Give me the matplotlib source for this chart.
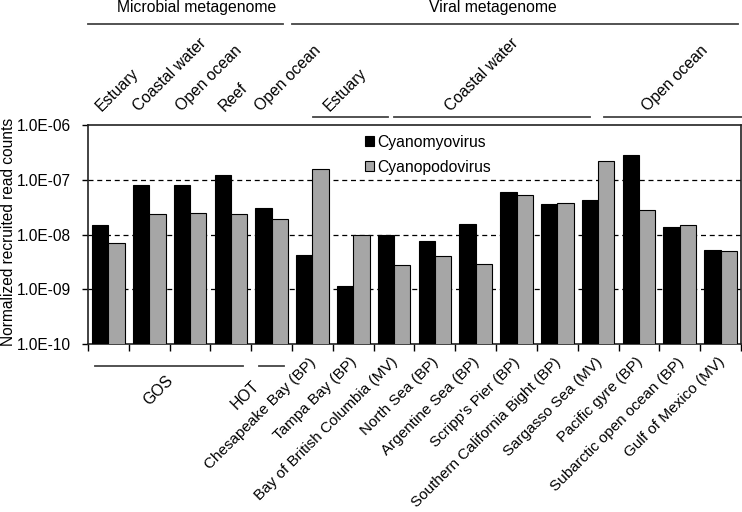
import matplotlib
matplotlib.use("Agg")
import matplotlib.pyplot as plt
import numpy as np
from matplotlib.ticker import FixedLocator, FuncFormatter, NullLocator
from matplotlib.transforms import blended_transform_factory
from matplotlib.patches import Patch

plt.rcParams['font.family'] = ['Liberation Sans', 'DejaVu Sans']
plt.rcParams['font.size'] = 11

# ---- data ----
site_labels = ["", "", "", "", "",
               "Chesapeake Bay (BP)", "Tampa Bay (BP)", "Bay of British Columbia (MV)",
               "North Sea (BP)", "Argentine Sea (BP)", "Scripp's Pier (BP)",
               "Southern California Bight (BP)", "Sargasso Sea (MV)", "Pacific gyre (BP)",
               "Subarctic open ocean (BP)", "Gulf of Mexico (MV)"]
cyanomyo = [1.49e-8, 7.9e-8, 8.0e-8, 1.24e-7, 3.1e-8, 4.2e-9, 1.16e-9, 1.0e-8,
            7.6e-9, 1.57e-8, 5.97e-8, 3.65e-8, 4.2e-8, 2.8e-7, 1.37e-8, 5.2e-9]
cyanopodo = [7.1e-9, 2.4e-8, 2.45e-8, 2.4e-8, 1.94e-8, 1.57e-7, 1.0e-8, 2.77e-9,
             4.05e-9, 2.85e-9, 5.3e-8, 3.8e-8, 2.23e-7, 2.84e-8, 1.47e-8, 4.93e-9]
series_names = ["Cyanomyovirus", "Cyanopodovirus"]
habitat_labels = ["Estuary", "Coastal water", "Open ocean", "Reef", "Open ocean",
                  "Estuary", "Coastal water", "Open ocean"]
habitat_starts = [-0.29, 0.64, 1.67, 2.73, 3.63, 5.30, 8.27, 13.10]
metagenome_labels = ["Microbial metagenome", "Viral metagenome"]
project_labels = ["GOS", "HOT"]

FS = 11.3

n = len(cyanomyo)
x = np.arange(n)

fig = plt.figure(figsize=(7.42, 5.12), dpi=100)
ax = fig.add_axes([88 / 742, 0.328, 653 / 742, 0.4277])

black = "#000000"
gray = "#a6a6a6"
ax.bar(x - 0.2, cyanomyo, width=0.4, color=black, edgecolor="black", linewidth=0.8, zorder=3)
ax.bar(x + 0.2, cyanopodo, width=0.4, color=gray, edgecolor="black", linewidth=0.8, zorder=3)

ax.set_yscale("log")
ax.set_ylim(1e-10, 1e-6)
ax.set_xlim(-0.5, n - 0.5)
ax.yaxis.set_major_locator(FixedLocator([1e-10, 1e-9, 1e-8, 1e-7, 1e-6]))
ax.yaxis.set_minor_locator(NullLocator())
ax.yaxis.set_major_formatter(FuncFormatter(lambda v, p: f"{v:.1E}"))
for yv in [1e-9, 1e-8, 1e-7]:
    ax.axhline(yv, color="black", linestyle=(0, (4, 3)), linewidth=0.9, zorder=1)

ax.set_xticks(np.arange(n + 1) - 0.5)
ax.set_xticklabels([])
ax.tick_params(axis="x", direction="out", length=5, width=1)
ax.tick_params(axis="y", direction="out", length=4, width=1, labelsize=11.2, pad=8)
for s in ax.spines.values():
    s.set_linewidth(1.2)
    s.set_color("#222222")

fig.text(9 / 742, 1 - 232 / 512, "Normalized recruited read counts", rotation=90,
         ha="center", va="center", fontsize=11.2)

tr = blended_transform_factory(ax.transData, ax.transAxes)
lc = "#444444"

# bottom site labels
for i, lab in enumerate(site_labels):
    if lab:
        ax.text(x[i] - 0.08, -0.05, lab, rotation=45, ha="right", va="top",
                rotation_mode="anchor", transform=tr, fontsize=11.0)

# GOS / HOT
ax.plot([-0.34, 3.29], [-0.10, -0.10], color=lc, lw=1.3, transform=tr, clip_on=False)
ax.plot([3.68, 4.30], [-0.10, -0.10], color=lc, lw=1.3, transform=tr, clip_on=False)
ax.text(1.4, -0.13, project_labels[0], rotation=45, ha="right", va="top",
        rotation_mode="anchor", transform=tr, fontsize=FS)
ax.text(3.5, -0.155, project_labels[1], rotation=45, ha="right", va="top",
        rotation_mode="anchor", transform=tr, fontsize=FS)

# top habitat labels
for xs, lab in zip(habitat_starts, habitat_labels):
    ax.text(xs + 0.17, 1.05, lab, rotation=45, ha="left", va="bottom",
            rotation_mode="anchor", transform=tr, fontsize=FS)

# habitat lines (viral)
for a, b in [(5.02, 6.85), (7.0, 11.8), (12.15, 15.7)]:
    ax.plot([a, b], [1.037, 1.037], color=lc, lw=1.3, transform=tr, clip_on=False)

# metagenome lines & labels
ax.plot([-0.49, 4.27], [1.461, 1.461], color=lc, lw=1.3, transform=tr, clip_on=False)
ax.plot([4.49, 15.43], [1.461, 1.461], color=lc, lw=1.3, transform=tr, clip_on=False)
ax.text(2.15, 1.535, metagenome_labels[0], ha="center", va="center", transform=tr, fontsize=FS)
ax.text(9.42, 1.535, metagenome_labels[1], ha="center", va="center", transform=tr, fontsize=FS)

handles = [Patch(facecolor=black, edgecolor="black", linewidth=0.8),
           Patch(facecolor=gray, edgecolor="black", linewidth=0.8)]
ax.legend(handles, series_names, loc="upper left", bbox_to_anchor=(0.414, 0.985),
          frameon=False, handlelength=0.6, handleheight=0.6, handletextpad=0.2,
          labelspacing=0.65, fontsize=FS, borderaxespad=0)

fig.savefig("out.png", dpi=100)
